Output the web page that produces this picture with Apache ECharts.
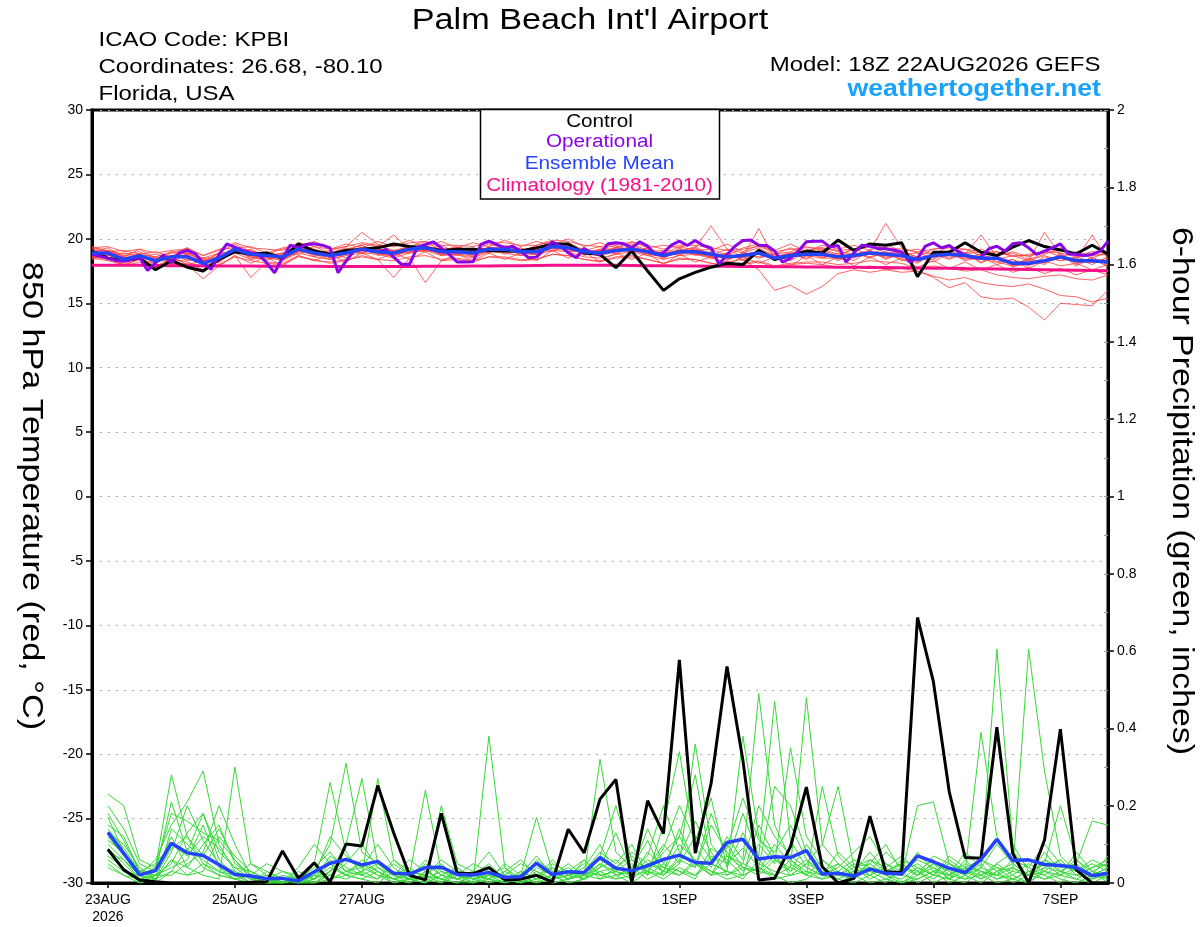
<!DOCTYPE html>
<html>
<head>
<meta charset="utf-8">
<script src="https://cdn.jsdelivr.net/npm/echarts@6/dist/echarts.min.js"></script>
<style>html,body{margin:0;padding:0;background:#fff}#c{width:1200px;height:927px}</style>
</head>
<body>
<div id="c"></div>
<script>
// ---------- axis / category data ----------
const xTickHours = [0, 48, 96, 144, 216, 264, 312, 360];
const xTickLabels = ['23AUG\n2026', '25AUG', '27AUG', '29AUG', '1SEP', '3SEP', '5SEP', '7SEP'];
const tempHours = []; for (let h = -6; h <= 378; h += 6) tempHours.push(h);
const precipHours = []; for (let h = 0; h <= 378; h += 6) precipHours.push(h);
const operHours = []; for (let h = -6; h <= 378; h += 3) operHours.push(h);

// ---------- 850 hPa temperature (deg C) ----------
const controlTemp = [
 19.05,18.5,18.3,18.5,17.6,18.3,17.8,17.5,18.4,19.0,18.8,18.9,18.5,
 19.6,19.05,18.8,19.1,19.2,19.3,19.6,19.4,19.3,19.1,19.2,19.2,19.1,
 19.05,19.05,19.3,19.6,19.6,18.9,18.8,17.76,19.05,17.5,16.0,16.9,17.4,
 17.8,18.1,18.0,19.1,18.4,18.7,19.05,18.9,19.9,19.1,19.6,19.5,19.7,
 17.06,18.96,18.96,19.7,18.96,18.7,19.35,19.87,19.4,19.14,18.83,19.5,18.83
];
const operationalTemp = [
 18.79,18.66,18.48,18.32,18.27,18.4,18.53,17.55,18.14,18.74,18.14,18.92,19.1,18.84,18.14,17.63,
 18.79,19.61,19.36,19.1,18.92,18.79,18.14,17.37,18.53,19.51,19.3,19.56,19.61,19.51,19.3,17.37,
 18.27,19.05,19.18,19.05,18.99,19.18,18.58,18.02,18.02,19.36,19.56,19.77,19.3,18.79,18.2,18.2,
 18.22,19.56,19.82,19.56,19.3,19.43,19.05,18.53,18.58,19.18,19.77,19.43,18.92,18.53,19.25,18.92,18.79,
 19.61,19.69,19.61,19.3,19.77,19.43,18.79,18.92,19.51,19.82,19.48,19.87,19.48,19.3,18.02,18.79,
 19.43,19.87,19.9,19.51,19.48,19.05,18.2,18.48,19.05,19.77,19.82,19.82,19.36,19.48,18.2,18.92,
 19.51,19.43,19.25,19.23,19.12,18.99,18.22,18.48,19.43,19.69,19.3,19.48,19.05,18.74,18.53,18.58,
 19.23,19.43,19.05,19.61,19.69,19.3,18.79,19.05,19.3,19.61,18.84,18.79,18.71,18.79,19.05,19.82
];
const meanTemp = [
 18.9,18.9,18.4,18.7,18.3,18.6,18.6,18.1,18.5,19.2,18.8,18.7,18.6,
 19.2,18.9,18.7,18.9,19.2,19.0,18.9,19.2,19.3,19.0,19.0,18.9,19.2,
 19.2,19.0,19.0,19.4,19.3,19.0,18.9,19.1,19.2,19.0,18.7,19.0,19.0,
 18.8,18.6,18.7,18.9,18.5,18.7,18.8,18.8,18.6,18.7,18.9,18.8,18.7,
 18.4,18.7,18.8,18.7,18.5,18.5,18.1,18.1,18.3,18.6,18.3,18.3,18.2
];
const climatologyTemp = [
 17.95,17.95,17.94,17.94,17.93,17.92,17.92,17.91,17.90,17.90,17.89,17.88,17.88,
 17.87,17.87,17.86,17.86,17.86,17.86,17.86,17.86,17.87,17.87,17.88,17.89,17.90,
 17.91,17.92,17.93,17.94,17.95,17.95,17.95,17.94,17.93,17.92,17.91,17.90,17.89,
 17.88,17.87,17.86,17.85,17.84,17.83,17.82,17.81,17.80,17.79,17.78,17.77,17.76,
 17.74,17.72,17.71,17.69,17.68,17.66,17.64,17.62,17.60,17.58,17.56,17.54,17.52
];
const tempMembers = [
 [19.0,19.3,18.6,19.2,18.5,18.9,19.3,18.2,18.9,19.6,19.0,18.8,19.2, 19.5,18.9,19.1,19.4,20.5,19.6,19.0,19.4,19.8,19.1,19.4,19.0,19.6, 19.3,19.0,19.5,19.8,19.4,18.9,19.2,19.5,19.0,19.3,18.8,19.4,19.1, 19.2,18.7,19.3,19.6,18.8,19.0,19.4,19.1,18.7,19.2,19.5,18.9,19.0, 18.6,19.2,19.4,18.8,19.0,18.7,18.9,18.4,18.8,19.3,18.7,19.0,18.9],
 [18.6,18.4,18.1,18.5,17.9,18.4,18.2,17.8,18.3,18.9,18.4,18.6,18.3, 18.9,18.6,18.4,18.7,18.9,18.8,18.5,18.9,19.1,18.7,18.8,18.5,19.0, 18.9,18.7,18.8,19.1,19.0,18.6,18.5,18.8,19.0,18.7,18.4,18.7,18.8, 18.5,18.2,18.4,17.6,16.0,16.4,15.7,16.3,17.3,17.6,17.4,17.6,17.7, 17.5,17.0,16.2,16.6,15.5,15.3,15.4,14.7,13.7,15.0,14.9,14.8,16.0],
 [18.5,18.3,18.0,18.4,17.8,18.1,18.0,16.9,17.9,18.7,17.0,18.2,18.1, 18.7,18.3,18.2,18.4,18.6,18.4,17.0,18.5,16.6,18.3,18.4,18.2,18.6, 18.5,18.3,18.4,18.8,18.7,18.4,18.2,18.6,18.7,18.4,18.1,18.5,18.4, 18.1,17.9,18.0,18.2,17.8,18.0,18.1,18.0,17.8,17.7,17.9,17.6,17.4, 17.5,17.1,16.8,17.0,16.6,16.4,16.3,16.5,16.1,15.6,15.5,15.1,15.4],
 [19.2,19.0,18.7,18.8,18.6,19.0,18.8,18.5,18.6,19.3,19.1,18.7,18.9, 19.3,19.2,18.8,19.0,19.6,19.4,20.3,19.2,19.4,19.0,19.3,19.1,19.3, 19.4,19.1,19.3,19.5,19.2,19.0,19.1,19.3,19.6,19.1,18.8,19.1,19.3, 21.0,19.2,18.9,19.3,18.6,18.9,19.1,19.3,19.0,18.8,19.1,21.2,19.3, 18.9,18.8,19.0,19.2,18.7,19.0,18.6,18.8,19.0,18.9,18.6,18.7,18.8],
 [18.8,18.9,18.3,18.4,18.1,18.7,18.5,18.0,18.4,19.1,18.6,18.5,18.4, 19.0,18.8,18.4,18.8,19.2,18.9,18.7,19.0,19.2,18.8,18.9,18.6,19.1, 19.0,18.9,18.8,19.3,19.1,18.9,18.7,19.0,19.1,18.8,18.6,18.9,18.9, 18.6,18.5,18.6,20.8,18.4,18.6,18.7,18.5,18.5,18.6,18.8,18.6,18.6, 18.3,18.6,18.7,18.5,18.4,18.2,17.9,18.0,18.2,18.5,18.2,18.2,18.1],
 [19.3,19.1,18.8,19.0,18.4,18.7,18.9,18.3,18.6,19.2,18.9,18.9,18.7, 19.2,19.0,18.9,19.0,19.3,19.2,19.0,19.3,19.4,19.2,19.1,19.0,19.3, 19.2,19.1,19.1,19.5,19.4,19.0,19.0,19.2,19.3,19.1,18.8,19.1,19.1, 18.9,18.6,18.8,19.0,18.6,18.8,18.9,18.8,18.7,18.8,19.0,18.9,18.8, 18.5,18.8,18.9,18.8,20.3,18.6,18.2,18.3,20.5,18.7,18.4,20.3,18.4],
 [18.7,18.5,18.5,18.8,18.3,18.5,18.7,18.1,18.5,19.1,18.7,18.6,18.5, 19.1,18.9,18.6,18.8,19.1,18.9,18.8,19.0,19.1,18.9,18.9,18.8,19.0, 19.1,18.9,18.9,19.3,19.2,18.9,18.8,19.0,19.1,18.9,18.6,18.9,18.9, 18.7,18.5,18.6,18.8,18.4,18.6,18.7,18.7,18.5,18.6,18.8,18.7,18.6, 18.3,18.6,18.7,18.6,18.4,18.4,18.0,18.0,18.2,18.5,18.2,18.2,18.2],
 [19.0,19.1,18.5,18.6,18.4,18.4,18.8,18.0,18.7,19.3,18.6,18.4,18.8, 19.4,18.7,18.9,19.2,19.5,18.9,18.6,19.4,19.3,18.8,19.2,18.7,19.4, 19.0,19.3,18.8,19.6,19.0,19.2,18.7,19.3,19.0,19.2,18.5,19.2,18.8, 18.6,18.9,18.4,19.1,18.3,18.9,18.5,19.0,18.3,18.9,18.6,19.0,18.4, 18.1,18.9,18.5,18.9,18.2,18.7,17.8,18.4,18.0,18.9,18.0,18.6,18.0],
 [18.9,18.7,18.6,18.5,18.6,18.2,18.4,18.4,18.2,19.4,18.5,19.0,18.4, 19.0,19.1,18.5,19.1,18.9,19.2,19.1,18.9,19.4,18.8,18.8,19.1,18.9, 19.4,18.8,19.2,19.1,19.5,18.8,19.1,18.9,19.4,18.9,18.9,18.8,19.2, 18.9,18.4,18.9,18.6,18.7,18.5,19.0,18.6,18.7,18.5,19.1,18.5,18.9, 18.6,18.4,19.0,18.4,18.8,18.2,18.4,17.9,18.6,18.3,18.5,18.0,18.6],
 [18.6,19.0,18.2,18.9,18.0,19.0,18.3,18.5,18.1,19.3,18.4,18.9,18.3, 19.3,18.6,19.0,18.5,19.5,18.7,19.0,18.9,19.6,18.7,19.2,18.6,19.4, 18.8,19.3,18.7,19.5,19.0,19.3,18.6,19.4,18.9,19.3,18.4,19.3,18.7, 19.0,18.3,18.9,18.5,18.8,18.3,19.0,18.5,18.9,18.3,19.1,18.4,18.9, 18.2,18.8,18.4,18.9,18.1,18.7,17.9,18.5,18.1,18.8,17.9,18.5,17.8],
 [18.6,18.5,17.9,18.2,17.8,18.0,18.1,17.6,18.0,18.6,18.3,18.1,18.0, 18.6,18.4,18.1,18.3,18.7,18.4,18.3,18.6,18.7,18.4,18.5,18.3,18.6, 18.6,18.4,18.4,18.8,18.7,18.4,18.3,18.5,18.6,18.4,18.1,18.4,18.4, 18.1,17.9,18.1,18.3,17.9,18.1,18.2,18.2,18.0,18.1,18.3,18.2,18.1, 17.7,17.9,17.7,17.5,17.6,17.2,17.0,16.9,17.1,17.2,16.9,16.8,17.2],
 [19.3,19.4,19.0,19.2,18.9,19.1,19.2,18.7,19.1,19.7,19.3,19.2,19.1, 19.7,19.4,19.2,19.4,19.7,19.5,19.4,19.7,19.8,19.5,19.5,19.4,19.7, 19.7,19.5,19.5,19.9,19.8,19.5,19.4,19.6,19.7,19.5,19.2,19.5,19.5, 19.3,19.1,19.2,19.4,19.0,19.2,19.3,19.3,19.1,19.2,19.4,19.3,19.2, 19.0,19.2,19.3,19.2,19.0,19.0,18.7,18.7,18.9,19.1,18.8,18.8,18.8],
 [18.5,19.1,18.6,18.4,18.5,18.1,18.9,18.2,18.9,18.9,18.9,18.3,18.8, 18.8,19.2,18.5,19.0,18.9,19.3,18.6,19.2,19.0,19.3,18.7,19.1,18.9, 19.4,18.7,19.2,19.0,19.5,18.7,19.2,18.8,19.4,18.7,19.0,18.7,19.3, 18.5,18.9,18.3,18.9,18.6,18.9,18.4,19.1,18.4,18.9,18.5,19.0,18.3, 18.6,18.2,18.9,18.3,18.6,18.0,18.4,17.7,18.3,17.9,18.1,17.6,18.0],
 [19.1,18.7,18.9,18.6,18.8,18.5,19.0,18.5,18.9,18.9,19.2,18.6,18.9, 19.0,19.4,18.9,19.3,19.0,19.5,19.1,19.4,19.1,19.5,18.9,19.3,19.0, 19.5,19.1,19.4,19.2,19.7,19.1,19.4,19.0,19.5,19.0,19.1,19.0,19.4, 18.7,19.2,18.6,19.1,18.8,19.3,18.7,19.2,18.8,19.2,18.8,19.3,18.8, 18.9,18.5,19.1,18.6,18.8,18.4,18.7,18.3,18.7,18.3,18.6,18.2,18.5],
 [18.4,18.8,17.9,18.5,17.7,18.6,18.0,18.3,17.9,18.7,18.1,18.6,17.9, 18.7,18.3,18.8,18.2,18.9,18.4,18.9,18.4,19.0,18.3,18.8,18.3,18.9, 18.4,18.9,18.3,19.1,18.5,19.0,18.2,18.9,18.4,18.9,18.0,18.8,18.2, 18.6,18.0,18.6,18.1,18.6,17.9,18.7,18.0,18.6,17.9,18.6,18.0,18.5, 17.8,18.3,17.7,18.2,17.6,18.0,17.4,17.8,17.3,17.7,17.2,17.6,17.2],
 [19.4,19.0,19.1,18.8,19.0,18.6,19.3,18.7,19.2,19.3,19.4,18.9,19.3, 19.5,19.8,19.2,19.6,19.3,19.8,19.4,19.9,19.3,19.8,19.3,19.7,19.4, 19.9,19.4,19.8,19.5,20.0,19.4,19.7,19.3,19.8,19.3,19.5,19.3,19.8, 19.1,19.6,19.0,19.5,19.1,19.6,19.0,19.5,19.2,19.5,19.1,19.6,19.0, 19.2,18.8,19.4,18.9,19.2,18.7,19.0,18.6,19.1,18.6,19.0,18.5,19.0]
];

// ---------- 6-hour precipitation (inches) ----------
const controlPrecip = [
 0.087,0.034,0.008,0.003,0.0,0.0,0.0,0.0,0.0,0.002,0.003,0.083,0.012,0.052,0.003,0.101,
 0.096,0.252,0.13,0.02,0.008,0.18,0.026,0.024,0.04,0.008,0.01,0.02,0.003,0.139,0.078,0.217,
 0.268,0.0,0.213,0.128,0.577,0.077,0.258,0.560,0.318,0.008,0.012,0.094,0.248,0.042,0.0,0.012,
 0.173,0.029,0.027,0.687,0.521,0.236,0.066,0.064,0.403,0.077,0.0,0.111,0.398,0.034,0.0,0.0
];
const meanPrecip = [
 0.131,0.077,0.021,0.032,0.103,0.078,0.071,0.047,0.022,0.018,0.011,0.012,0.005,0.029,0.051,0.061,
 0.047,0.056,0.025,0.023,0.04,0.041,0.022,0.021,0.027,0.015,0.016,0.051,0.022,0.029,0.027,0.066,
 0.038,0.032,0.045,0.061,0.072,0.053,0.051,0.105,0.113,0.062,0.068,0.066,0.084,0.023,0.025,0.018,
 0.036,0.025,0.023,0.07,0.055,0.038,0.027,0.061,0.113,0.058,0.06,0.048,0.045,0.04,0.019,0.025
];
const precipMembers = [
 [0.23,0.20,0.06,0.04,0.28,0.12,0.05,0.02,0.01,0.00,0.00,0.01,0.00,0.02,0.06,0.03, 0.05,0.02,0.01,0.00,0.03,0.01,0.00,0.00,0.38,0.04,0.01,0.00,0.02,0.00,0.01,0.05, 0.02,0.00,0.03,0.08,0.12,0.05,0.02,0.03,0.01,0.06,0.02,0.00,0.01,0.04,0.00,0.02, 0.03,0.01,0.00,0.02,0.05,0.01,0.00,0.03,0.02,0.01,0.00,0.04,0.06,0.02,0.01,0.03],
 [0.17,0.08,0.02,0.06,0.15,0.21,0.29,0.10,0.03,0.01,0.00,0.00,0.01,0.03,0.10,0.31, 0.08,0.05,0.02,0.01,0.00,0.02,0.04,0.01,0.00,0.03,0.06,0.02,0.00,0.01,0.03,0.08, 0.05,0.10,0.02,0.15,0.34,0.09,0.04,0.12,0.06,0.49,0.15,0.06,0.02,0.01,0.05,0.02, 0.00,0.01,0.03,0.00,0.02,0.06,0.03,0.01,0.05,0.02,0.00,0.03,0.01,0.00,0.02,0.04],
 [0.13,0.10,0.04,0.01,0.06,0.04,0.02,0.01,0.30,0.05,0.02,0.01,0.00,0.05,0.26,0.08, 0.02,0.27,0.06,0.03,0.02,0.01,0.03,0.00,0.02,0.01,0.00,0.04,0.02,0.05,0.02,0.32, 0.08,0.04,0.11,0.02,0.05,0.36,0.10,0.05,0.18,0.07,0.47,0.11,0.04,0.02,0.01,0.03, 0.02,0.04,0.00,0.01,0.03,0.00,0.02,0.05,0.01,0.03,0.02,0.06,0.03,0.01,0.00,0.02],
 [0.10,0.06,0.01,0.03,0.21,0.08,0.18,0.06,0.02,0.00,0.01,0.00,0.02,0.01,0.04,0.02, 0.06,0.03,0.01,0.02,0.24,0.03,0.01,0.02,0.05,0.01,0.02,0.17,0.03,0.01,0.06,0.02, 0.03,0.06,0.02,0.05,0.12,0.28,0.05,0.03,0.38,0.12,0.06,0.04,0.48,0.10,0.25,0.04, 0.05,0.02,0.01,0.04,0.02,0.01,0.06,0.02,0.00,0.01,0.03,0.02,0.00,0.04,0.02,0.01],
 [0.07,0.04,0.00,0.02,0.09,0.12,0.07,0.14,0.06,0.02,0.00,0.01,0.00,0.00,0.03,0.06, 0.04,0.10,0.04,0.01,0.00,0.20,0.05,0.03,0.01,0.00,0.03,0.01,0.06,0.02,0.01,0.04, 0.13,0.03,0.07,0.20,0.08,0.04,0.15,0.08,0.03,0.10,0.05,0.35,0.12,0.06,0.02,0.01, 0.06,0.03,0.02,0.20,0.21,0.05,0.03,0.39,0.12,0.06,0.02,0.04,0.03,0.05,0.16,0.15],
 [0.15,0.12,0.03,0.02,0.05,0.13,0.18,0.08,0.04,0.03,0.01,0.00,0.04,0.10,0.05,0.02, 0.03,0.01,0.06,0.02,0.01,0.00,0.02,0.05,0.03,0.01,0.00,0.02,0.04,0.01,0.03,0.06, 0.04,0.08,0.05,0.03,0.10,0.06,0.02,0.07,0.04,0.02,0.06,0.03,0.10,0.04,0.02,0.05, 0.02,0.05,0.03,0.06,0.04,0.02,0.08,0.04,0.605,0.10,0.03,0.05,0.20,0.06,0.03,0.02],
 [0.09,0.05,0.01,0.00,0.03,0.09,0.04,0.02,0.01,0.02,0.05,0.03,0.01,0.00,0.02,0.05, 0.10,0.04,0.02,0.06,0.03,0.01,0.00,0.02,0.01,0.05,0.02,0.00,0.01,0.03,0.06,0.02, 0.03,0.02,0.05,0.04,0.02,0.06,0.03,0.02,0.05,0.03,0.02,0.04,0.02,0.25,0.07,0.03, 0.04,0.03,0.05,0.02,0.07,0.05,0.03,0.06,0.04,0.03,0.605,0.29,0.07,0.03,0.05,0.03],
 [0.20,0.14,0.05,0.03,0.12,0.04,0.10,0.15,0.05,0.02,0.00,0.00,0.00,0.01,0.07,0.04, 0.02,0.04,0.01,0.00,0.02,0.05,0.01,0.03,0.00,0.01,0.02,0.07,0.02,0.00,0.01,0.03, 0.01,0.05,0.03,0.09,0.20,0.11,0.22,0.04,0.13,0.05,0.03,0.02,0.05,0.03,0.01,0.00, 0.02,0.00,0.04,0.03,0.00,0.02,0.04,0.01,0.03,0.00,0.02,0.05,0.02,0.01,0.03,0.00],
 [0.06,0.03,0.02,0.04,0.18,0.16,0.13,0.11,0.06,0.01,0.02,0.00,0.01,0.04,0.08,0.03, 0.04,0.02,0.00,0.01,0.05,0.02,0.01,0.03,0.08,0.02,0.05,0.03,0.01,0.02,0.04,0.10, 0.02,0.03,0.14,0.05,0.03,0.01,0.09,0.06,0.02,0.15,0.07,0.03,0.06,0.02,0.04,0.08, 0.12,0.05,0.02,0.08,0.03,0.05,0.02,0.04,0.10,0.05,0.02,0.03,0.06,0.02,0.04,0.06],
 [0.11,0.08,0.03,0.01,0.08,0.20,0.11,0.05,0.03,0.00,0.00,0.02,0.01,0.02,0.12,0.07, 0.04,0.06,0.02,0.00,0.03,0.01,0.00,0.02,0.04,0.01,0.00,0.06,0.03,0.01,0.02,0.05, 0.03,0.01,0.04,0.02,0.07,0.16,0.08,0.02,0.04,0.03,0.10,0.05,0.02,0.06,0.03,0.01, 0.04,0.02,0.00,0.03,0.01,0.04,0.02,0.00,0.03,0.05,0.02,0.08,0.03,0.02,0.04,0.05],
 [0.05,0.02,0.01,0.02,0.04,0.06,0.15,0.04,0.01,0.00,0.03,0.01,0.00,0.00,0.01,0.02, 0.01,0.03,0.00,0.01,0.02,0.00,0.04,0.01,0.02,0.00,0.01,0.02,0.00,0.01,0.02,0.04, 0.06,0.02,0.03,0.01,0.04,0.02,0.05,0.03,0.02,0.04,0.01,0.02,0.03,0.01,0.02,0.04, 0.01,0.03,0.02,0.01,0.03,0.02,0.01,0.02,0.04,0.01,0.03,0.01,0.02,0.04,0.01,0.02],
 [0.14,0.09,0.03,0.05,0.10,0.07,0.12,0.09,0.04,0.01,0.01,0.03,0.02,0.00,0.03,0.10, 0.27,0.05,0.02,0.04,0.01,0.03,0.02,0.00,0.01,0.03,0.01,0.05,0.02,0.04,0.01,0.07, 0.20,0.06,0.04,0.10,0.05,0.12,0.06,0.09,0.22,0.11,0.08,0.15,0.06,0.03,0.05,0.02, 0.03,0.08,0.04,0.02,0.05,0.03,0.01,0.04,0.02,0.06,0.04,0.02,0.05,0.03,0.06,0.04],
 [0.04,0.02,0.00,0.01,0.03,0.02,0.05,0.03,0.01,0.02,0.00,0.00,0.03,0.01,0.05,0.02, 0.01,0.00,0.03,0.01,0.06,0.02,0.01,0.00,0.03,0.01,0.02,0.00,0.05,0.03,0.02,0.01, 0.02,0.04,0.01,0.03,0.02,0.05,0.03,0.01,0.02,0.04,0.25,0.20,0.08,0.04,0.02,0.03, 0.08,0.03,0.05,0.02,0.04,0.01,0.03,0.02,0.05,0.08,0.04,0.10,0.05,0.03,0.02,0.04],
 [0.08,0.06,0.02,0.00,0.14,0.10,0.06,0.03,0.02,0.05,0.03,0.01,0.00,0.02,0.01,0.03, 0.02,0.01,0.05,0.02,0.04,0.00,0.03,0.01,0.02,0.04,0.00,0.03,0.01,0.02,0.05,0.01, 0.04,0.02,0.06,0.03,0.14,0.05,0.02,0.10,0.04,0.03,0.07,0.02,0.05,0.10,0.05,0.02, 0.05,0.10,0.03,0.05,0.02,0.07,0.04,0.03,0.01,0.02,0.05,0.03,0.02,0.08,0.03,0.05],
 [0.12,0.07,0.02,0.01,0.06,0.02,0.03,0.12,0.07,0.03,0.01,0.00,0.01,0.03,0.02,0.01, 0.03,0.05,0.02,0.01,0.00,0.04,0.02,0.01,0.03,0.02,0.00,0.01,0.04,0.02,0.03,0.02, 0.01,0.02,0.08,0.04,0.03,0.02,0.07,0.05,0.09,0.04,0.02,0.06,0.03,0.02,0.08,0.04, 0.06,0.04,0.07,0.03,0.06,0.02,0.05,0.03,0.02,0.04,0.01,0.06,0.04,0.05,0.02,0.07],
 [0.18,0.11,0.03,0.02,0.02,0.05,0.08,0.20,0.10,0.02,0.00,0.01,0.00,0.01,0.03,0.06, 0.05,0.03,0.01,0.03,0.02,0.06,0.03,0.02,0.01,0.00,0.03,0.01,0.02,0.03,0.01,0.03, 0.04,0.07,0.03,0.02,0.06,0.04,0.18,0.07,0.05,0.20,0.12,0.07,0.04,0.02,0.03,0.06, 0.04,0.02,0.06,0.04,0.02,0.01,0.04,0.06,0.03,0.04,0.02,0.01,0.03,0.06,0.02,0.03]
];

// ---------- build chart ----------
const FONT = '"Liberation Sans", Arial, Helvetica, sans-serif';
const COLORS = { control: '#000', operational: '#8a05e6', mean: '#2443ff', clim: '#f5108a',
                 tempMember: 'rgba(255,60,60,0.8)', precipMember: '#38d838', site: '#19a2fb' };
const pair = (hours, vals) => hours.map((h, i) => [h, vals[i]]);

const series = [];
tempMembers.forEach((m, i) => series.push({
  name: 'Temperature member ' + (i + 1), type: 'line', yAxisIndex: 0, data: pair(tempHours, m),
  symbol: 'none', silent: true, z: 2, lineStyle: { width: 1, color: COLORS.tempMember }
}));
precipMembers.forEach((m, i) => series.push({
  name: 'Precipitation member ' + (i + 1), type: 'line', yAxisIndex: 1, data: pair(precipHours, m),
  symbol: 'none', silent: true, z: 2, lineStyle: { width: 1, color: COLORS.precipMember }
}));
series.push(
  { name: 'Climatology (1981-2010)', type: 'line', yAxisIndex: 0, data: pair(tempHours, climatologyTemp),
    symbol: 'none', z: 3, lineStyle: { width: 3, color: COLORS.clim } },
  { name: 'Control', type: 'line', yAxisIndex: 0, data: pair(tempHours, controlTemp),
    symbol: 'none', z: 4, lineStyle: { width: 3, color: COLORS.control } },
  { name: 'Operational', type: 'line', yAxisIndex: 0, data: pair(operHours, operationalTemp),
    symbol: 'none', z: 5, lineStyle: { width: 3, color: COLORS.operational } },
  { name: 'Ensemble Mean', type: 'line', yAxisIndex: 0, data: pair(tempHours, meanTemp),
    symbol: 'none', z: 6, lineStyle: { width: 3.5, color: COLORS.mean } },
  { name: 'Control precipitation', type: 'line', yAxisIndex: 1, data: pair(precipHours, controlPrecip),
    symbol: 'none', z: 4, lineStyle: { width: 3, color: COLORS.control } },
  { name: 'Ensemble Mean precipitation', type: 'line', yAxisIndex: 1, data: pair(precipHours, meanPrecip),
    symbol: 'none', z: 6, lineStyle: { width: 3.5, color: COLORS.mean } }
);

const txt = (text, x, y, size, align, scaleX, fill, extra) => Object.assign({
  type: 'text', x: x, y: y, scaleX: scaleX, z: 100,
  style: { text: text, fontSize: size, fontFamily: FONT, fill: fill || '#000', align: align, verticalAlign: 'middle' }
}, extra || {});

const chart = echarts.init(document.getElementById('c'), null, { renderer: 'canvas' });
chart.setOption({
  animation: false,
  backgroundColor: '#fff',
  grid: { left: 92, right: 92, top: 110, bottom: 44, show: true, borderColor: '#000', borderWidth: 3 },
  xAxis: {
    type: 'value', min: -6, max: 378,
    axisLine: { show: true, onZero: false, lineStyle: { color: '#000', width: 3 } },
    axisTick: { show: true, customValues: xTickHours, length: 5, lineStyle: { color: '#000', width: 1.5 } },
    axisLabel: {
      customValues: xTickHours, color: '#000', fontSize: 14, fontFamily: FONT, margin: 9, lineHeight: 17,
      formatter: v => { const i = xTickHours.indexOf(v); return i >= 0 ? xTickLabels[i] : ''; }
    },
    splitLine: { show: false }
  },
  yAxis: [
    { type: 'value', position: 'left', min: -30, max: 30, interval: 5,
      axisLine: { show: true, onZero: false, lineStyle: { color: '#000', width: 3 } },
      axisTick: { show: true, length: 6, lineStyle: { color: '#000', width: 1.5 } },
      axisLabel: { color: '#000', fontSize: 14, fontFamily: FONT, margin: 9 },
      splitLine: { show: true, lineStyle: { color: '#aaa', width: 1, type: [2, 6] } } },
    { type: 'value', position: 'right', min: 0, max: 2, interval: 0.2,
      axisLine: { show: true, onZero: false, lineStyle: { color: '#000', width: 3 } },
      axisTick: { show: true, length: 6, lineStyle: { color: '#000', width: 1.5 } },
      axisLabel: { color: '#000', fontSize: 14, fontFamily: FONT, margin: 9,
        formatter: v => String(Math.round(v * 10) / 10) },
      splitLine: { show: false } },
    { type: 'value', position: 'right', min: 0, max: 2, interval: 0.1,
      axisLine: { show: false, onZero: false },
      axisTick: { show: true, inside: true, length: 4, lineStyle: { color: '#999', width: 1 } },
      axisLabel: { show: false }, splitLine: { show: false } }
  ],
  series: series,
  graphic: [
    txt("Palm Beach Int'l Airport", 590, 20.5, 29, 'center', 1.18),
    txt('ICAO Code: KPBI', 98.5, 40.5, 20, 'left', 1.2),
    txt('Coordinates: 26.68, -80.10', 98.5, 67, 20, 'left', 1.2),
    txt('Florida, USA', 98.5, 94, 20, 'left', 1.2),
    txt('Model: 18Z 22AUG2026 GEFS', 1100.5, 65, 20, 'right', 1.2),
    { type: 'text', x: 1101, y: 90, scaleX: 1.16, z: 100,
      style: { text: 'weathertogether.net', fontSize: 23, fontWeight: 'bold', fontFamily: FONT,
               fill: COLORS.site, align: 'right', verticalAlign: 'middle' } },
    { type: 'rect', z: 99, shape: { x: 480.5, y: 109.5, width: 239, height: 89.5 },
      style: { fill: '#fff', stroke: '#000', lineWidth: 1.5 } },
    txt('Control', 599.5, 122, 18, 'center', 1.15, COLORS.control),
    txt('Operational', 599.5, 142.5, 18, 'center', 1.15, COLORS.operational),
    txt('Ensemble Mean', 599.5, 164.5, 18, 'center', 1.15, COLORS.mean),
    txt('Climatology (1981-2010)', 599.5, 186.5, 18, 'center', 1.15, COLORS.clim),
    txt('850 hPa Temperature (red, °C)', 30.8, 496, 29.5, 'center', 1.16, '#000', { rotation: -Math.PI / 2 }),
    txt('6-hour Precipitation (green, inches)', 1181, 491, 29.5, 'center', 1.146, '#000', { rotation: -Math.PI / 2 })
  ]
});
</script>
</body>
</html>
